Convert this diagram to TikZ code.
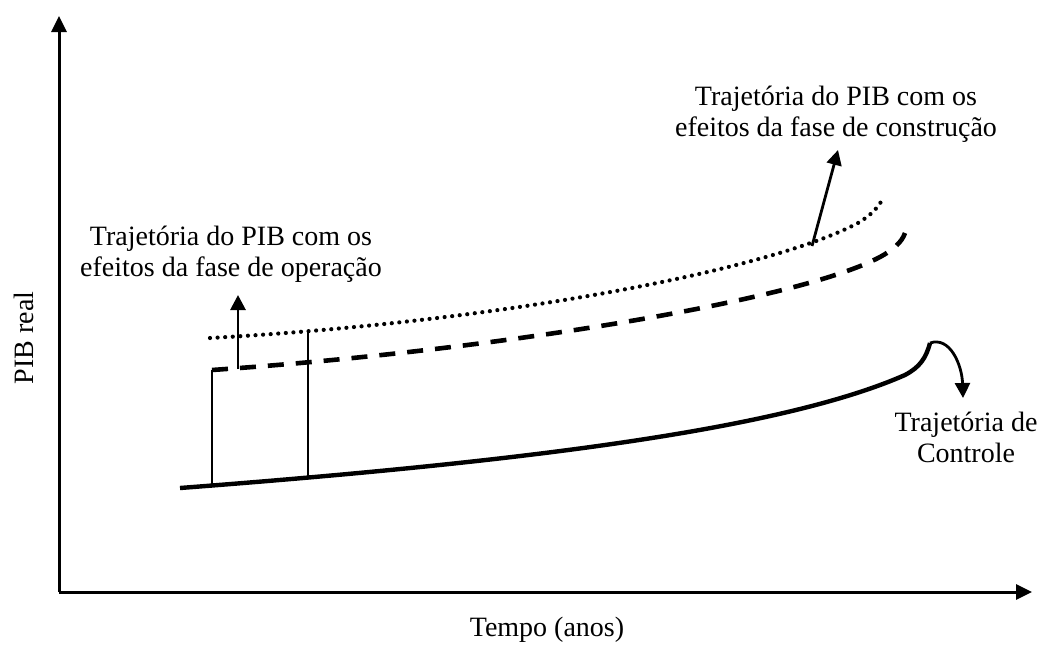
\documentclass[tikz,border=0pt]{standalone}
\usepackage{fontspec}
\setmainfont{Liberation Serif}
\usetikzlibrary{arrows.meta}
\begin{document}
\begin{tikzpicture}[x=1pt,y=-1pt,
  lbl/.style={font=\fontsize{28}{30.5}\selectfont,align=center,inner sep=0pt},
  axis/.style={line width=3pt,-{Triangle[length=16pt,width=15pt]}},
  ctrl/.style={line width=4.4pt},
  dsh/.style={line width=4.6pt,dash pattern=on 16pt off 12pt},
  dts/.style={line width=4.2pt,line cap=round,dash pattern=on 0pt off 7.6pt},
  thin/.style={line width=1.8pt},
  ptr/.style={line width=2.8pt,-{Triangle[length=15pt,width=15pt]}}]
\useasboundingbox (0,0) rectangle (1041,646);
% axes
\coordinate (O) at (59,592);
\coordinate (Ytip) at (59,16);
\coordinate (Xtip) at (1032,592);
\draw[axis] (O) -- (Ytip);
\draw[axis] (O) -- (Xtip);
% key points
\coordinate (c0) at (180,488);
\coordinate (c1) at (212,485);
\coordinate (c2) at (308,478);
\coordinate (cm) at (905,375);
\coordinate (ctop) at (930,343);
\coordinate (d0) at (212,370);
\coordinate (dm) at (880,257);
\coordinate (d1) at (905,233);
\coordinate (p0) at (210,338);
\coordinate (p2) at (308,331);
\coordinate (pm) at (858,223);
\coordinate (p1) at (883,198);
\coordinate (oa) at (238,369);
\coordinate (ca) at (812,246);
% control path
\draw[ctrl] (c0) .. controls (520,462) and (780,430) .. (cm)
  .. controls (920,367) and (926,358) .. (ctop);
% dashed (construction)
\draw[dsh] (d0) .. controls (500,350) and (800,300) .. (dm)
  .. controls (893,250) and (902,242) .. (d1);
% dotted (operation)
\draw[dts] (p0) .. controls (500,322) and (770,270) .. (pm)
  .. controls (870,216) and (879,207) .. (p1);
% verticals
\draw[thin] (c1) -- (d0);
\draw[thin] (c2) -- (p2);
% labels
\node[lbl,anchor=base] (lop) at (231,276) {Trajetória do PIB com os\\efeitos da fase de operação};
\node[lbl,anchor=base] (lcon) at (836,136) {Trajetória do PIB com os\\efeitos da fase de construção};
\node[lbl,anchor=base] (lctl) at (966,462) {Trajetória de\\Controle};
\node[lbl,anchor=base] (lx) at (547,636) {Tempo (anos)};
\node[lbl,anchor=base,rotate=90] (ly) at (33,338) {PIB real};
% pointers
\coordinate (oatip) at (238,295);
\coordinate (catip) at (838,150);
\coordinate (cttip) at (963,398);
\draw[ptr] (oa) -- (oatip);
\draw[ptr] (ca) -- (catip);
\draw[ptr] (ctop) .. controls (950,336) and (962,365) .. (cttip);
\end{tikzpicture}
\end{document}
